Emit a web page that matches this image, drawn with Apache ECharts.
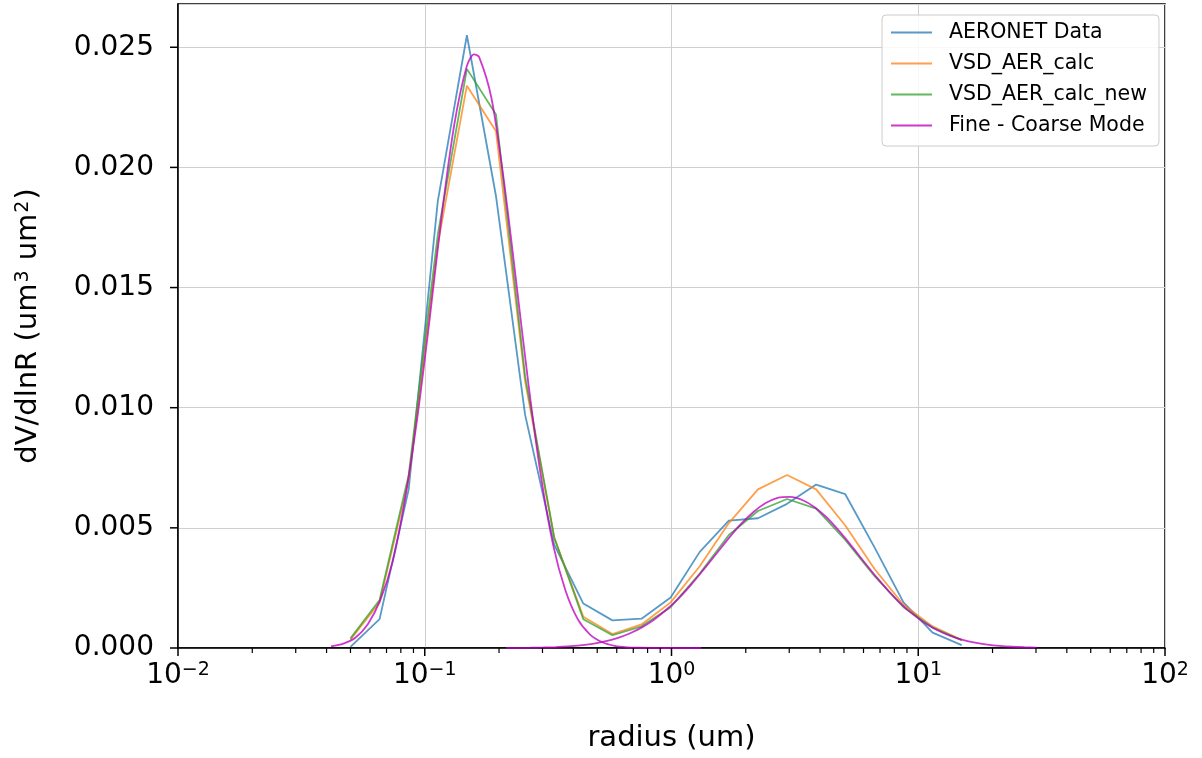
<!DOCTYPE html>
<html>
<head>
<meta charset="utf-8">
<script src="https://cdn.jsdelivr.net/npm/echarts@6/dist/echarts.min.js"></script>
<style>
html,body{margin:0;padding:0;background:#fff;}
#chart{width:1202px;height:758px;}
</style>
</head>
<body>
<div id="chart"></div>
<script>
// AERONET size-distribution radii (um)
const radii = [0.05, 0.065604, 0.086077, 0.112939, 0.148184, 0.194429, 0.255105, 0.334716, 0.439173, 0.576227, 0.756052, 0.991996, 1.301571, 1.707757, 2.240702, 2.939966, 3.857452, 5.06126, 6.640745, 8.713145, 11.432287, 15.0];
const aeronet = [0.00005, 0.0012, 0.0066, 0.0186, 0.0255, 0.0188, 0.0097, 0.0043, 0.00185, 0.00115, 0.00122, 0.0021, 0.0040, 0.0053, 0.0054, 0.0060, 0.0068, 0.0064, 0.0042, 0.0019, 0.00064, 0.00012];
const vsdCalc = [0.00035, 0.0019, 0.0070, 0.0168, 0.0234, 0.0215, 0.0111, 0.0046, 0.0013, 0.00058, 0.00098, 0.0019, 0.0034, 0.0052, 0.0066, 0.0072, 0.0066, 0.0051, 0.0033, 0.0018, 0.0009, 0.00033];
const vsdNew = [0.0004, 0.0020, 0.0072, 0.0172, 0.0241, 0.0222, 0.0113, 0.0046, 0.0012, 0.00053, 0.0009, 0.0017, 0.0031, 0.0047, 0.0057, 0.0062, 0.0058, 0.0045, 0.0030, 0.0017, 0.00085, 0.00033];

// Fine mode curve
const fineR = [0.04169, 0.04677, 0.05248, 0.05888, 0.06607, 0.07413, 0.08318, 0.09333, 0.10471, 0.11749, 0.13183, 0.14791, 0.15849, 0.16596, 0.18621, 0.20893, 0.23442, 0.26303, 0.29512, 0.33113, 0.37154, 0.41687, 0.46774, 0.52481, 0.58884, 0.66069, 0.74131, 0.83176, 0.93325, 1.04713, 1.1749, 1.31826];
const fineV = [0.000065, 0.00018, 0.00044, 0.0010, 0.0020, 0.0036, 0.0062, 0.0096, 0.0137, 0.0181, 0.0218, 0.0242, 0.0247, 0.0246, 0.0229, 0.0195, 0.0153, 0.0110, 0.0072, 0.0043, 0.0024, 0.0012, 0.00056, 0.00024, 0.00009, 0.00003, 0.00001, 0.000003, 0.000001, 0, 0, 0];
// Coarse mode curve
const coarseR = [0.2138, 0.23988, 0.26915, 0.302, 0.33884, 0.38019, 0.42658, 0.47863, 0.53703, 0.60256, 0.67608, 0.75858, 0.85114, 0.95499, 1.07152, 1.20226, 1.34896, 1.51356, 1.69824, 1.90546, 2.13796, 2.39883, 2.69153, 3.01995, 3.38844, 3.80189, 4.2658, 4.7863, 5.37032, 6.0256, 6.76083, 7.58578, 8.51138, 9.54993, 10.7152, 12.0226, 13.4896, 15.1356, 16.9824, 19.0546, 21.3796, 23.9883, 26.9153, 30.1995];
const coarseV = [0.0000036, 0.0000068, 0.0000126, 0.0000226, 0.0000394, 0.0000667, 0.00011, 0.000175, 0.000272, 0.000411, 0.000603, 0.000858, 0.00119, 0.0016, 0.00208, 0.00264, 0.00326, 0.0039, 0.00454, 0.00514, 0.00564, 0.00602, 0.00625, 0.00629, 0.00616, 0.00586, 0.00542, 0.00486, 0.00424, 0.00359, 0.00296, 0.00237, 0.00184, 0.00139, 0.00102, 0.000726, 0.000503, 0.000339, 0.000221, 0.000141, 0.0000867, 0.000052, 0.0000303, 0.0000171];

const seriesNames = ['AERONET Data', 'VSD_AER_calc', 'VSD_AER_calc_new', 'Fine - Coarse Mode'];
const yTicks = [0, 0.005, 0.010, 0.015, 0.020, 0.025];
const xMajorTicks = [0.01, 0.1, 1, 10, 100];
const xMinorTicks = [];
for (const d of [0.01, 0.1, 1, 10]) for (let m = 2; m <= 9; m++) xMinorTicks.push(d * m);

const colors = ['rgba(31,119,180,0.75)', 'rgba(255,127,14,0.75)', 'rgba(44,160,44,0.75)', 'rgba(191,0,191,0.78)'];
const FONT = 'DejaVu Sans';
const zip = (xs, ys) => xs.map((x, i) => [x, ys[i]]);
const sup = v => String(v).replace('-', '\u2212');

function lineSeries(name, data, color) {
  return {
    name, type: 'line', data, showSymbol: false, symbol: 'none',
    smooth: false, color, lineStyle: { width: 1.8, color }, animation: false, z: 3
  };
}

function tickSeries(values, axisDim, len, width) {
  // tick marks placed through the chart's own axes
  return {
    type: 'custom', silent: true, clip: false, z: 5, animation: false,
    data: values.map(v => axisDim === 'x' ? [v, 0] : [0.01, v]),
    renderItem: (params, api) => {
      const p = api.coord([api.value(0), api.value(1)]);
      const shape = axisDim === 'x'
        ? { x1: p[0], y1: p[1], x2: p[0], y2: p[1] + len }
        : { x1: p[0], y1: p[1], x2: p[0] - len, y2: p[1] };
      return { type: 'line', shape, style: { stroke: '#000', lineWidth: width } };
    }
  };
}

const chart = echarts.init(document.getElementById('chart'), null, { renderer: 'canvas' });
chart.setOption({
  backgroundColor: '#fff',
  animation: false,
  grid: { left: 178, right: 37, top: 4, bottom: 110, show: true, borderColor: '#000', borderWidth: 1.5, backgroundColor: 'transparent' },
  legend: {
    data: seriesNames, orient: 'vertical', left: 882, top: 15,
    padding: [7, 12, 10, 9], itemWidth: 41, itemHeight: 2, itemGap: 10, icon: 'rect',
    backgroundColor: 'rgba(255,255,255,0.85)', borderColor: '#cccccc', borderWidth: 1, borderRadius: 4,
    textStyle: { fontFamily: FONT, fontSize: 20.5, lineHeight: 20, color: '#000', padding: [0, 0, 0, 12] }
  },
  xAxis: {
    type: 'log', logBase: 10, min: 0.01, max: 100,
    name: 'radius (um)', nameLocation: 'middle', nameGap: 76,
    nameTextStyle: { fontFamily: FONT, fontSize: 29, color: '#000' },
    axisLine: { show: true, onZero: false, lineStyle: { color: '#000', width: 1.5 } },
    axisTick: { show: false },
    axisLabel: {
      margin: 13,
      formatter: v => '{b|10}{s|' + sup(Math.round(Math.log10(v))) + '}',
      rich: {
        b: { fontFamily: FONT, fontSize: 28, lineHeight: 30, color: '#000' },
        s: { fontFamily: FONT, fontSize: 19, lineHeight: 19, color: '#000', verticalAlign: 'top' }
      }
    },
    splitLine: { show: true, lineStyle: { color: '#cfcfcf', width: 1 } }
  },
  yAxis: {
    type: 'value', min: 0, max: 0.0268, interval: 0.005,
    name: 'dV/dlnR (um{s|3} um{s|2})', nameLocation: 'middle', nameGap: 135,
    nameTextStyle: {
      fontFamily: FONT, fontSize: 29, color: '#000',
      rich: { s: { fontFamily: FONT, fontSize: 19, color: '#000', verticalAlign: 'top', padding: [0, 1, 0, 1] } }
    },
    axisLine: { show: true, onZero: false, lineStyle: { color: '#000', width: 1.5 } },
    axisTick: { show: false },
    axisLabel: { margin: 24, customValues: yTicks, fontFamily: FONT, fontSize: 28, color: '#000', formatter: v => v.toFixed(3) },
    splitLine: { show: true, lineStyle: { color: '#cfcfcf', width: 1 } }
  },
  series: [
    lineSeries(seriesNames[0], zip(radii, aeronet), colors[0]),
    lineSeries(seriesNames[1], zip(radii, vsdCalc), colors[1]),
    lineSeries(seriesNames[2], zip(radii, vsdNew), colors[2]),
    Object.assign(lineSeries(seriesNames[3], zip(fineR, fineV), colors[3]), { smooth: 0.3 }),
    Object.assign(lineSeries(seriesNames[3], zip(coarseR, coarseV), colors[3]), { smooth: 0.3 }),
    tickSeries(xMajorTicks, 'x', 8, 1.5),
    tickSeries(xMinorTicks, 'x', 5, 1.2),
    tickSeries(yTicks, 'y', 8, 1.5)
  ]
});
</script>
</body>
</html>
